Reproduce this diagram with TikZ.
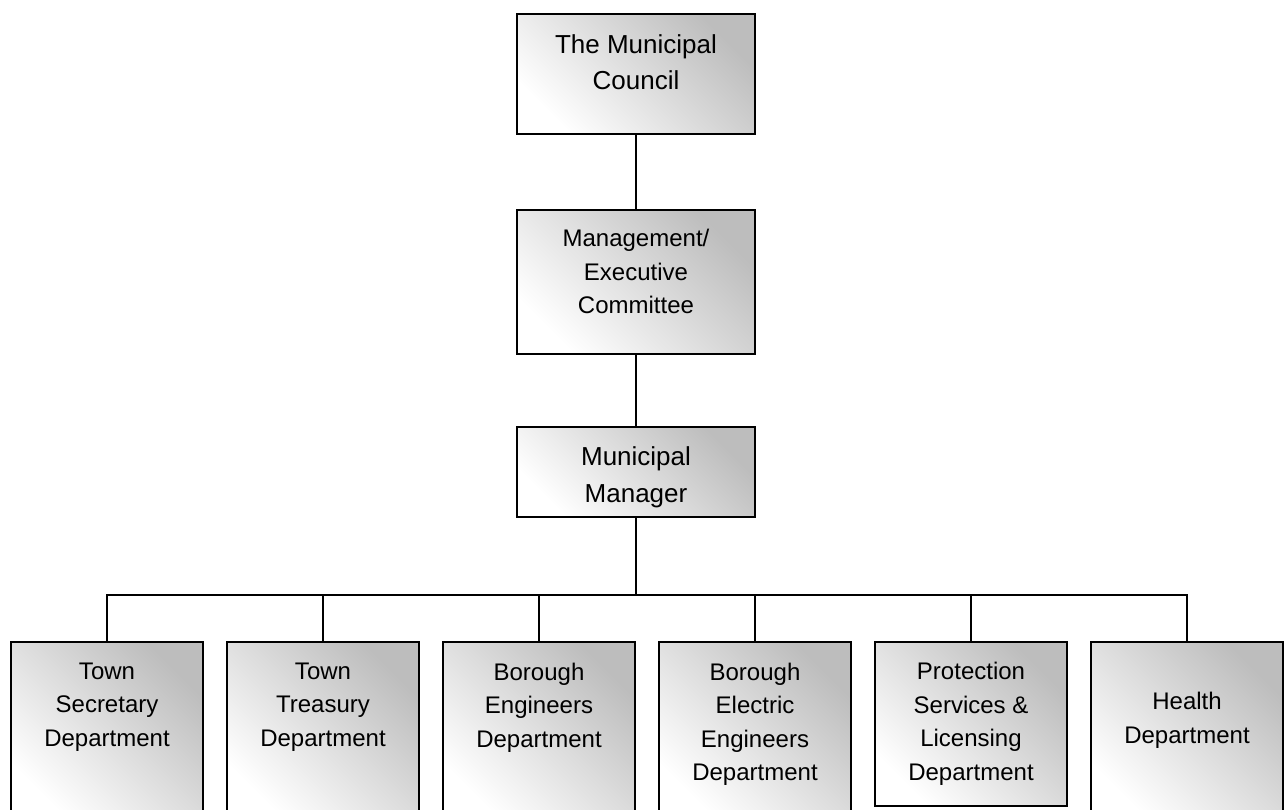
\documentclass[tikz,border=0pt]{standalone}
\usepackage{fontspec}
\setmainfont{Liberation Sans}
\usetikzlibrary{positioning}
\tikzstyle{unit} = [rectangle, draw=black, line width=2pt, inner sep=0pt, top color=black!26, bottom color=white, middle color=black!13, shading angle=-45]
\tikzstyle{headbox} = [unit, minimum width=238pt]
\tikzstyle{deptbox} = [unit, minimum width=192pt, minimum height=176pt]
\tikzstyle{boxtext} = [align=center, inner sep=0pt, font=\fontsize{24}{33.5}\selectfont]
\tikzstyle{bigtext} = [boxtext, font=\fontsize{26}{36.5}\selectfont]
\tikzstyle{link} = [line width=2pt]

\begin{document}
\begin{tikzpicture}[x=1pt, y=-1pt]

    \clip (0,0) rectangle (1287,809);

    \node (council) [headbox, minimum height=120pt] at (636,74) {};
    \node (mgmt) [headbox, minimum height=144pt] at (636,282) {};
    \node (manager) [headbox, minimum height=90pt] at (636,472) {};

    \node (secretary) [deptbox] at (107,730) {};
    \node (treasury) [deptbox] at (323,730) {};
    \node (engineers) [deptbox] at (539,730) {};
    \node (electric) [deptbox] at (755,730) {};
    \node (protection) [deptbox, minimum height=164pt] at (971,724) {};
    \node (health) [deptbox] at (1187,730) {};

    \node (council-t) [bigtext, below=21pt of council.north] {The Municipal\\Council};
    \node (mgmt-t) [boxtext, below=20pt of mgmt.north] {Management/\\Executive\\Committee};
    \node (manager-t) [bigtext, below=20.5pt of manager.north] {Municipal\\Manager};
    \node (secretary-t) [boxtext, below=21.5pt of secretary.north] {Town\\Secretary\\Department};
    \node (treasury-t) [boxtext, below=21.5pt of treasury.north] {Town\\Treasury\\Department};
    \node (engineers-t) [boxtext, below=21.5pt of engineers.north] {Borough\\Engineers\\Department};
    \node (electric-t) [boxtext, below=21.5pt of electric.north] {Borough\\Electric\\Engineers\\Department};
    \node (protection-t) [boxtext, below=21pt of protection.north] {Protection\\Services \&\\Licensing\\Department};
    \node (health-t) [boxtext, below=51pt of health.north] {Health\\Department};

    \coordinate (bus) at (636,595);

    \draw [link] (council) -- (mgmt);
    \draw [link] (mgmt) -- (manager);
    \draw [link] (manager) -- (bus);
    \draw [link] (bus) -| (secretary.north);
    \draw [link] (bus) -| (treasury.north);
    \draw [link] (bus) -| (engineers.north);
    \draw [link] (bus) -| (electric.north);
    \draw [link] (bus) -| (protection.north);
    \draw [link] (bus) -| (health.north);

\end{tikzpicture}
\end{document}
